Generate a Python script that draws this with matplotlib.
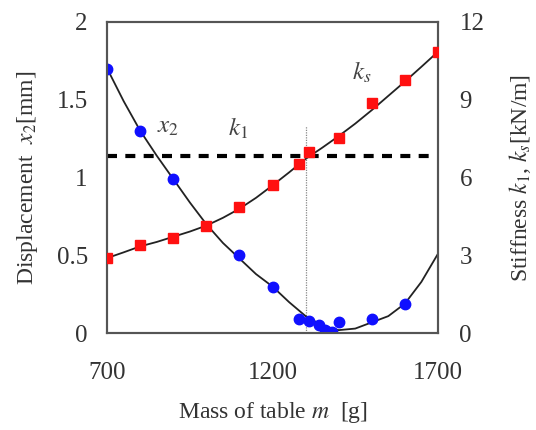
import matplotlib

matplotlib.use("Agg")
import matplotlib.pyplot as plt

# measured points
m_x2 = [700, 800, 900, 1100, 1200, 1280, 1310, 1340, 1360, 1380, 1400, 1500, 1600]
x2_meas = [1.70, 1.30, 0.99, 0.50, 0.30, 0.09, 0.08, 0.05, 0.02, 0.005, 0.07, 0.09, 0.19]

m_ks = [700, 800, 900, 1000, 1100, 1200, 1280, 1310, 1400, 1500, 1600, 1700]
ks_meas = [2.9, 3.42, 3.68, 4.13, 4.85, 5.71, 6.51, 7.0, 7.52, 8.89, 9.77, 10.86]

# fitted curves
m_curve = [700, 750, 800, 850, 900, 950, 1000, 1050, 1100, 1150, 1200,
           1250, 1300, 1350, 1400, 1450, 1500, 1550, 1600, 1650, 1700]
x2_curve = [1.70, 1.49, 1.30, 1.14, 0.99, 0.84, 0.70, 0.58, 0.48, 0.38, 0.30,
            0.20, 0.11, 0.05, 0.02, 0.03, 0.07, 0.11, 0.19, 0.33, 0.51]
ks_curve = [2.9, 3.12, 3.35, 3.52, 3.72, 3.92, 4.15, 4.45, 4.8, 5.22, 5.7,
            6.2, 6.72, 7.15, 7.6, 8.08, 8.6, 9.15, 9.7, 10.27, 10.85]

k1 = 6.83
m_opt = 1300

plt.rcParams.update({
    "font.family": "Liberation Serif",
    "mathtext.fontset": "stix",
    "font.size": 17,
})

fig = plt.figure(figsize=(5.36, 4.30), dpi=100)
ax = fig.add_axes([0.2, 0.225, 0.617, 0.724])
ax2 = ax.twinx()

ax.plot(m_curve, x2_curve, color="#222222", lw=1.3, zorder=2)
ax.plot(m_x2, x2_meas, "o", color="#1010ff", ms=7.5, zorder=3)
ax.vlines(m_opt, 0, 1.33, color="#888888", lw=0.9, linestyles=(0, (1, 1)), zorder=1)

ax2.plot(m_curve, ks_curve, color="#222222", lw=1.3, zorder=2)
ax2.plot(m_ks, ks_meas, "s", color="#ff1010", ms=7, zorder=3)
ax2.axhline(k1, color="black", lw=3, dashes=(2.4, 2.0), zorder=1)

ax.set_xlim(700, 1700)
ax.set_ylim(0, 2)
ax2.set_ylim(0, 12)
ax.set_xticks([700, 1200, 1700])
ax.set_yticks([0, 0.5, 1, 1.5, 2])
ax.set_yticklabels(["0", "0.5", "1", "1.5", "2"])
ax2.set_yticks([0, 3, 6, 9, 12])

for a in (ax, ax2):
    a.tick_params(length=0, colors="#333333", labelsize=18)
    for s in a.spines.values():
        s.set_color("#555555")
        s.set_linewidth(1.5)
ax.tick_params(axis="x", pad=21)
ax.tick_params(axis="y", pad=14)
ax2.tick_params(axis="y", pad=15.5)

ax.set_xlabel("Mass of table $m$  [g]", color="#333333", labelpad=11)
ax.set_ylabel("Displacement  $x_2$[mm]", color="#333333", labelpad=12)
ax2.set_ylabel("Stiffness $k_1$, $k_s$[kN/m]", color="#333333", labelpad=16)

ax.text(850, 1.29, "$x_2$", color="#444444", fontsize=18)
ax.text(1065, 1.27, "$k_1$", color="#444444", fontsize=18)
ax.text(1440, 1.63, "$k_s$", color="#444444", fontsize=18)

fig.savefig("out.png", dpi=100)
